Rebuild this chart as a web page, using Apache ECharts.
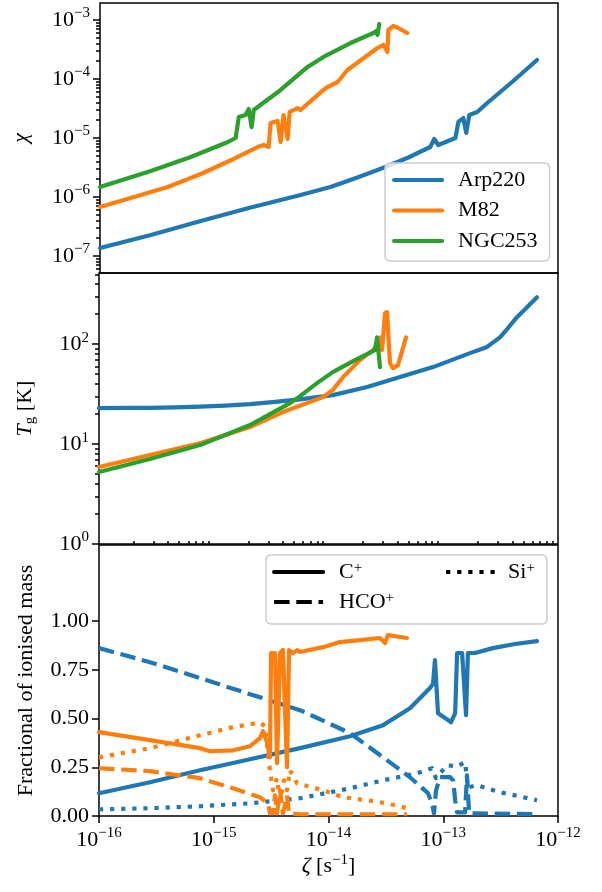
<!DOCTYPE html>
<html>
<head>
<meta charset="utf-8">
<script src="https://cdn.jsdelivr.net/npm/echarts@6/dist/echarts.min.js"></script>
<style>
  html, body { margin: 0; padding: 0; background: #fff; }
  #chart { width: 602px; height: 892px; }
</style>
</head>
<body>
<div id="chart"></div>
<script>
// ---- data: [zeta (s^-1), value] ----
// top panel: chi
const arpChi = [[1.00e-16,1.37e-7],[2.78e-16,2.27e-7],[7.59e-16,3.92e-7],[2.07e-15,6.64e-7],[5.65e-15,1.08e-6],[1.03e-14,1.48e-6],[1.77e-14,2.14e-6],[3.11e-14,3.22e-6],[4.93e-14,4.67e-6],[7.66e-14,7.03e-6],[8.31e-14,9.6e-6],[9.00e-14,7.6e-6],[1.27e-13,1.0e-5],[1.35e-13,1.87e-5],[1.49e-13,2.18e-5],[1.58e-13,1.22e-5],[1.68e-13,2.45e-5],[1.97e-13,2.76e-5],[2.41e-13,3.92e-5],[3.97e-13,8.89e-5],[6.56e-13,2.10e-4]]
const m82Chi = [[1.00e-16,6.78e-7],[1.98e-16,1.00e-6],[3.91e-16,1.48e-6],[7.59e-16,2.45e-6],[1.47e-15,4.41e-6],[2.38e-15,7.03e-6],[2.69e-15,7.6e-6],[2.97e-15,7.03e-6],[3.09e-15,1.79e-5],[3.56e-15,1.94e-5],[3.78e-15,8.55e-6],[4.01e-15,2.45e-5],[4.35e-15,9.61e-6],[4.53e-15,2.76e-5],[5.32e-15,3.22e-5],[5.65e-15,2.98e-5],[8.96e-15,6.52e-5],[9.70e-15,7.31e-5],[1.19e-14,8.89e-5],[1.45e-14,1.42e-4],[2.65e-14,3.35e-4],[2.99e-14,3.77e-4],[3.11e-14,4.07e-4],[3.24e-14,2.87e-4],[3.30e-14,6.78e-4],[3.65e-14,7.91e-4],[4.03e-14,7.31e-4],[4.83e-14,6.02e-4]]
const ngcChi = [[1.00e-16,1.48e-6],[2.78e-16,2.76e-6],[6.21e-16,4.77e-6],[1.31e-15,8.55e-6],[1.53e-15,1.00e-5],[1.63e-15,2.27e-5],[1.87e-15,2.45e-5],[1.99e-15,3.10e-5],[2.11e-15,1.53e-5],[2.20e-15,2.98e-5],[3.78e-15,6.52e-5],[6.50e-15,1.60e-4],[8.96e-15,2.36e-4],[1.54e-14,4.07e-4],[2.44e-14,6.02e-4],[2.59e-14,6.52e-4],[2.65e-14,5.57e-4],[2.75e-14,8.55e-4]]

// middle panel: gas temperature (K)
const arpT = [[1.00e-16,22.9],[1.69e-16,23.0],[2.78e-16,23.0],[4.60e-16,23.3],[7.59e-16,23.7],[1.25e-15,24.3],[2.07e-15,25.1],[3.42e-15,26.4],[5.65e-15,28.0],[1.09e-14,30.9],[2.17e-14,37.2],[4.20e-14,46.8],[8.14e-14,58.9],[1.71e-13,81.3],[2.41e-13,93.8],[3.12e-13,117],[3.67e-13,145],[4.39e-13,186],[5.37e-13,234],[6.56e-13,295]]
const m82T = [[1.00e-16,5.89],[2.78e-16,7.76],[7.59e-16,10.2],[2.07e-15,14.8],[4.01e-15,20.9],[8.96e-15,29.5],[1.09e-14,34.7],[1.34e-14,46.8],[1.88e-14,69.2],[2.44e-14,87.1],[2.75e-14,102],[2.87e-14,117],[2.93e-14,87.1],[3.11e-14,204],[3.24e-14,209],[3.37e-14,93.3],[3.44e-14,64.6],[3.65e-14,57.5],[4.03e-14,61.7],[4.74e-14,117]]
const ngcT = [[1.00e-16,5.25],[2.78e-16,7.08],[7.59e-16,9.77],[2.07e-15,15.5],[4.62e-15,25.7],[5.65e-15,30.2],[7.94e-15,40.7],[1.09e-14,52.5],[1.70e-14,69.2],[2.54e-14,87.1],[2.65e-14,117],[2.81e-14,58.9]]

// bottom panel: fraction of ionised mass
const arpC = [[1.00e-16,0.117],[2.78e-16,0.173],[7.59e-16,0.235],[2.07e-15,0.291],[5.65e-15,0.348],[1.54e-14,0.409],[2.99e-14,0.466],[5.13e-14,0.553],[7.66e-14,0.656],[8.14e-14,0.677],[8.47e-14,0.800],[9.00e-14,0.527],[1.10e-13,0.492],[1.17e-13,0.481],[1.27e-13,0.527],[1.32e-13,0.836],[1.46e-13,0.836],[1.58e-13,0.517],[1.64e-13,0.836],[1.89e-13,0.836],[2.71e-13,0.861],[4.22e-13,0.882],[6.56e-13,0.897]]
const arpH = [[1.00e-16,0.861],[2.78e-16,0.789],[7.59e-16,0.707],[2.07e-15,0.625],[5.65e-15,0.543],[1.54e-14,0.425],[2.99e-14,0.301],[5.13e-14,0.199],[7.36e-14,0.117],[7.98e-14,0.065],[8.31e-14,0.014],[8.65e-14,0.132],[9.37e-14,0.199],[1.15e-13,0.199],[1.22e-13,0.183],[1.27e-13,0.081],[1.32e-13,0.019],[1.55e-13,0.019],[1.61e-13,0.209],[1.68e-13,0.014],[6.56e-13,0.010]]
const arpSi = [[1.00e-16,0.034],[2.78e-16,0.040],[7.59e-16,0.050],[2.07e-15,0.065],[5.65e-15,0.091],[1.54e-14,0.142],[2.99e-14,0.183],[5.91e-14,0.219],[7.98e-14,0.245],[8.65e-14,0.194],[1.08e-13,0.260],[1.32e-13,0.255],[1.55e-13,0.276],[1.61e-13,0.286],[1.64e-13,0.147],[1.97e-13,0.158],[3.12e-13,0.122],[6.56e-13,0.081]]
const m82C = [[1.00e-16,0.430],[2.78e-16,0.389],[7.59e-16,0.348],[9.27e-16,0.332],[1.47e-15,0.337],[2.07e-15,0.358],[2.53e-15,0.399],[2.69e-15,0.435],[2.91e-15,0.379],[3.09e-15,0.301],[3.16e-15,0.836],[3.42e-15,0.836],[3.56e-15,0.271],[3.78e-15,0.836],[4.01e-15,0.851],[4.35e-15,0.250],[4.53e-15,0.851],[4.90e-15,0.836],[5.32e-15,0.851],[5.65e-15,0.841],[8.96e-15,0.866],[1.26e-14,0.892],[1.88e-14,0.902],[2.81e-14,0.913],[3.11e-14,0.887],[3.30e-14,0.928],[4.83e-14,0.913]]
const m82H = [[1.00e-16,0.245],[2.78e-16,0.230],[7.59e-16,0.194],[1.47e-15,0.142],[2.53e-15,0.096],[2.97e-15,0.065],[3.09e-15,0.014],[3.28e-15,0.014],[3.42e-15,0.106],[3.56e-15,0.014],[3.78e-15,0.132],[4.01e-15,0.014],[4.35e-15,0.106],[4.53e-15,0.014],[5.65e-15,0.009],[4.83e-14,0.009]]
const m82Si = [[1.00e-16,0.301],[2.78e-16,0.348],[7.59e-16,0.414],[1.47e-15,0.456],[2.07e-15,0.470],[2.53e-15,0.480],[2.80e-15,0.460],[2.97e-15,0.322],[3.09e-15,0.235],[3.28e-15,0.132],[3.56e-15,0.194],[3.78e-15,0.081],[4.10e-15,0.183],[4.35e-15,0.132],[4.62e-15,0.235],[5.32e-15,0.168],[8.96e-15,0.132],[1.34e-14,0.096],[2.17e-14,0.081],[3.24e-14,0.065],[4.83e-14,0.040]]

// axis ranges and ticks
const zetaRange = [1e-16, 1e-12]
const chiRange = [5.15e-8, 1.94e-3]
const tRange = [1, 515]
const fracRange = [0, 1.39]
const fracTicks = [0, 0.25, 0.5, 0.75, 1.0]
const galaxies = ['Arp220', 'M82', 'NGC253']
const species = ['C+', 'HCO+', 'Si+']

const FONT = '"Liberation Serif", "DejaVu Serif", serif'
const FS = 22
const LW = 4.2
const DASH = [15.5, 6.7]
const DOT = [4.2, 6.9]
const BLUE = '#1f77b4', ORANGE = '#ff7f0e', GREEN = '#2ca02c'

const lg = Math.log10
const logLog = (pts) => pts.map((p) => [lg(p[0]), lg(p[1])])
const logLin = (pts) => pts.map((p) => [lg(p[0]), p[1]])

// decade ticks, and 2..9 minor ticks, in log10 units
const decades = (r) => {
  const out = []
  for (let n = Math.ceil(lg(r[0]) - 1e-9); n <= lg(r[1]) + 1e-9; n++) out.push(n)
  return out
}
const minors = (r) => {
  const out = []
  for (let n = Math.floor(lg(r[0])); n <= Math.ceil(lg(r[1])); n++) {
    for (let k = 2; k <= 9; k++) {
      const v = n + lg(k)
      if (v > lg(r[0]) && v < lg(r[1])) out.push(v)
    }
  }
  return out
}

const expStr = (n) => (n < 0 ? '\u2212' + -n : '' + n)
const pow10 = (v) => '{b|10}{s|' + expStr(Math.round(v)) + '}'
const tickRich = {
  b: { fontFamily: FONT, fontSize: FS, lineHeight: 28, color: '#000' },
  s: { fontFamily: FONT, fontSize: 15, lineHeight: 16, verticalAlign: 'top', color: '#000' },
}
const nameStyle = {
  fontFamily: FONT,
  fontSize: FS,
  color: '#000',
  lineHeight: 26,
  rich: {
    i: { fontFamily: FONT, fontSize: FS, fontStyle: 'italic', lineHeight: 26, color: '#000' },
    sb: { fontFamily: FONT, fontSize: 15, lineHeight: 14, verticalAlign: 'bottom', color: '#000' },
    sp: { fontFamily: FONT, fontSize: 15, lineHeight: 14, verticalAlign: 'top', color: '#000' },
  },
}

const grids = [
  { left: 99, top: 3, width: 459, height: 270 },
  { left: 99, top: 273, width: 459, height: 271 },
  { left: 99, top: 545, width: 459, height: 271 },
].map((g) => ({ ...g, show: true, borderColor: '#000', borderWidth: 1.5, backgroundColor: 'transparent' }))

const tickLine = { color: '#000', width: 1.5 }

const majorY = (gridIndex, range, ticks, formatter, name, nameGap) => ({
  type: 'value',
  gridIndex,
  position: 'left',
  min: range[0],
  max: range[1],
  axisLine: { show: false, onZero: false },
  splitLine: { show: false },
  axisTick: { show: true, customValues: ticks, length: 7, lineStyle: tickLine },
  axisLabel: {
    customValues: ticks,
    formatter,
    margin: 10,
    color: '#000',
    fontFamily: FONT,
    fontSize: FS,
    rich: tickRich,
    showMinLabel: true,
    showMaxLabel: true,
  },
  name,
  nameLocation: 'middle',
  nameRotate: 90,
  nameGap,
  nameTextStyle: nameStyle,
})

const minorY = (gridIndex, range, ticks) => ({
  type: 'value',
  gridIndex,
  position: 'left',
  min: range[0],
  max: range[1],
  axisLine: { show: false, onZero: false },
  splitLine: { show: false },
  axisTick: { show: true, customValues: ticks, length: 4, lineStyle: tickLine },
  axisLabel: { show: false },
})

const hiddenX = (gridIndex) => ({
  type: 'value',
  gridIndex,
  min: lg(zetaRange[0]),
  max: lg(zetaRange[1]),
  show: false,
})

const xMajor = decades(zetaRange)

const line = (name, data, color, xi, yi, dash) => ({
  type: 'line',
  name,
  data,
  xAxisIndex: xi,
  yAxisIndex: yi,
  symbol: 'none',
  silent: true,
  animation: false,
  emphasis: { disabled: true },
  itemStyle: { color },
  lineStyle: { color, width: LW, type: dash || 'solid', cap: dash ? 'butt' : 'round', join: 'round' },
})

const legendBase = {
  orient: 'vertical',
  itemWidth: 49,
  itemHeight: 14,
  selectedMode: false,
  itemStyle: { opacity: 0 },
  lineStyle: { width: LW },
}
const supText = (pad) => ({
  fontFamily: FONT, fontSize: FS, lineHeight: 22, color: '#000', padding: [0, 0, 0, pad],
  rich: { s: { fontFamily: FONT, fontSize: 15, lineHeight: 12, verticalAlign: 'top', color: '#000' } },
})

const option = {
  animation: false,
  backgroundColor: '#fff',
  grid: grids,
  xAxis: [
    hiddenX(0),
    hiddenX(1),
    {
      type: 'value',
      gridIndex: 2,
      min: lg(zetaRange[0]),
      max: lg(zetaRange[1]),
      axisLine: { show: false, onZero: false },
      splitLine: { show: false },
      axisTick: { show: true, customValues: xMajor, length: 7, lineStyle: tickLine },
      axisLabel: {
        customValues: xMajor,
        formatter: pow10,
        margin: 10,
        color: '#000',
        fontFamily: FONT,
        fontSize: FS,
        rich: tickRich,
        showMinLabel: true,
        showMaxLabel: true,
      },
      name: '{i|\u03b6} [s{sp|\u22121}]',
      nameLocation: 'middle',
      nameGap: 37,
      nameTextStyle: nameStyle,
    },
    {
      type: 'value',
      gridIndex: 2,
      min: lg(zetaRange[0]),
      max: lg(zetaRange[1]),
      axisLine: { show: false, onZero: false },
      splitLine: { show: false },
      axisTick: { show: true, customValues: minors(zetaRange), length: 4, lineStyle: tickLine },
      axisLabel: { show: false },
    },
  ],
  yAxis: [
    majorY(0, [lg(chiRange[0]), lg(chiRange[1])], decades(chiRange), pow10, '{i|\u03c7}', 66),
    majorY(1, [lg(tRange[0]), lg(tRange[1])], decades(tRange), pow10, '{i|T}{sb|g} [K]', 61),
    majorY(2, fracRange, fracTicks, (v) => v.toFixed(2), 'Fractional of ionised mass', 60),
    minorY(0, [lg(chiRange[0]), lg(chiRange[1])], minors(chiRange)),
    minorY(1, [lg(tRange[0]), lg(tRange[1])], minors(tRange)),
  ],
  legend: [
    {
      ...legendBase,
      data: galaxies,
      left: 385,
      top: 163,
      itemWidth: 48,
      itemGap: 8.5,
      padding: [6, 12, 9, 7],
      backgroundColor: 'rgba(255,255,255,0.8)',
      borderColor: '#cccccc',
      borderWidth: 1.5,
      borderRadius: 5,
      textStyle: { fontFamily: FONT, fontSize: FS, lineHeight: 22, color: '#000', padding: [0, 0, 0, 11] },
    },
    {
      ...legendBase,
      data: species.slice(0, 2),
      left: 266,
      top: 555,
      itemGap: 8,
      padding: [6, 0, 0, 6],
      formatter: (n) => n.replace('+', '{s|+}'),
      textStyle: supText(11),
    },
    {
      ...legendBase,
      data: species.slice(2),
      left: 438,
      top: 555,
      padding: [6, 0, 0, 6],
      formatter: (n) => n.replace('+', '{s|+}'),
      textStyle: supText(8),
    },
  ],
  graphic: [
    {
      type: 'rect',
      z: 3,
      shape: { x: 266, y: 555, width: 281, height: 69, r: 5 },
      style: { fill: 'rgba(255,255,255,0.8)', stroke: '#cccccc', lineWidth: 1.5 },
      silent: true,
    },
  ],
  series: [
    line('Arp220', logLog(arpChi), BLUE, 0, 0),
    line('M82', logLog(m82Chi), ORANGE, 0, 0),
    line('NGC253', logLog(ngcChi), GREEN, 0, 0),

    line('Arp220 T', logLog(arpT), BLUE, 1, 1),
    line('M82 T', logLog(m82T), ORANGE, 1, 1),
    line('NGC253 T', logLog(ngcT), GREEN, 1, 1),

    line('Arp220 C', logLin(arpC), BLUE, 2, 2),
    line('Arp220 H', logLin(arpH), BLUE, 2, 2, DASH),
    line('Arp220 Si', logLin(arpSi), BLUE, 2, 2, DOT),
    line('M82 C', logLin(m82C), ORANGE, 2, 2),
    line('M82 H', logLin(m82H), ORANGE, 2, 2, DASH),
    line('M82 Si', logLin(m82Si), ORANGE, 2, 2, DOT),

    // black entries for the species legend
    line(species[0], [], '#000', 2, 2),
    line(species[1], [], '#000', 2, 2, DASH),
    line(species[2], [], '#000', 2, 2, DOT),
  ],
}

const chart = echarts.init(document.getElementById('chart'), null, { renderer: 'canvas' })
chart.setOption(option)
</script>
</body>
</html>
